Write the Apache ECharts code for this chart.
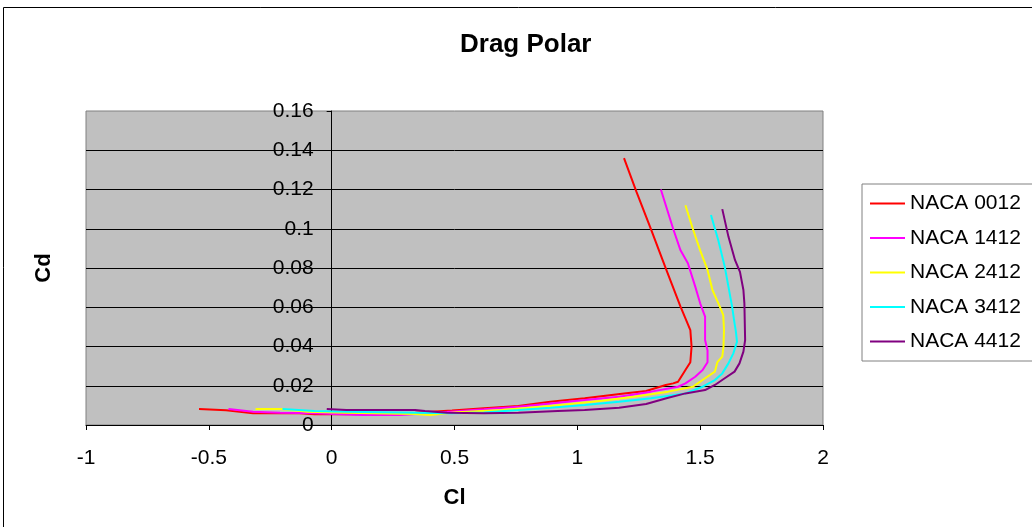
<!DOCTYPE html>
<html>
<head>
<meta charset="utf-8">
<title>Drag Polar</title>
<script src="https://cdn.jsdelivr.net/npm/echarts@6/dist/echarts.min.js"></script>
<style>
  html, body { margin: 0; padding: 0; background: #fff; }
  #chart { width: 1032px; height: 527px; }
</style>
</head>
<body>
<div id="chart"></div>
<script>
// values, ordered from negative Cl along the bottom and up the stall branch
var names = ['NACA 0012', 'NACA 1412', 'NACA 2412', 'NACA 3412', 'NACA 4412'];
var colors = ['#FF0000', '#FF00FF', '#FFFF00', '#00FFFF', '#800080'];

var cl0012 = [-0.54, -0.43, -0.32, -0.13, -0.07, 0.10, 0.34, 0.49, 0.62, 0.76, 0.89, 1.03, 1.19, 1.28, 1.36, 1.39, 1.41, 1.44, 1.46, 1.465, 1.46, 1.42, 1.36, 1.30, 1.24, 1.19];
var cd0012 = [0.0082, 0.0075, 0.0060, 0.0060, 0.0055, 0.0055, 0.0063, 0.0074, 0.0085, 0.0097, 0.0119, 0.0136, 0.0161, 0.0173, 0.0204, 0.0212, 0.0220, 0.0280, 0.0320, 0.0400, 0.0484, 0.0603, 0.0798, 0.0997, 0.1190, 0.1360];

var cl1412 = [-0.42, -0.32, -0.21, -0.07, 0.12, 0.28, 0.48, 0.62, 0.76, 0.89, 1.03, 1.17, 1.30, 1.41, 1.44, 1.48, 1.51, 1.53, 1.53, 1.52, 1.52, 1.50, 1.48, 1.45, 1.42, 1.39, 1.34];
var cd1412 = [0.0082, 0.0068, 0.0063, 0.0060, 0.0051, 0.0051, 0.0068, 0.0080, 0.0093, 0.0110, 0.0127, 0.0144, 0.0170, 0.0195, 0.0212, 0.0246, 0.0280, 0.0320, 0.0380, 0.0433, 0.0552, 0.0620, 0.0705, 0.0824, 0.0890, 0.1000, 0.1200];

var cl2412 = [-0.31, -0.21, -0.10, 0.06, 0.34, 0.40, 0.51, 0.69, 0.89, 1.10, 1.23, 1.37, 1.47, 1.49, 1.52, 1.56, 1.57, 1.59, 1.595, 1.597, 1.594, 1.58, 1.55, 1.53, 1.50, 1.47, 1.44];
var cd2412 = [0.0082, 0.0082, 0.0068, 0.0063, 0.0056, 0.0051, 0.0065, 0.0076, 0.0097, 0.0124, 0.0144, 0.0170, 0.0195, 0.0212, 0.0238, 0.0272, 0.0320, 0.0348, 0.0400, 0.0484, 0.0560, 0.0603, 0.0688, 0.0790, 0.0890, 0.1000, 0.1120];

var cl3412 = [-0.20, -0.07, 0.06, 0.34, 0.49, 0.62, 0.76, 0.89, 1.03, 1.17, 1.30, 1.44, 1.51, 1.56, 1.59, 1.615, 1.635, 1.65, 1.645, 1.64, 1.63, 1.615, 1.60, 1.574, 1.544];
var cd3412 = [0.0082, 0.0071, 0.0068, 0.0063, 0.0060, 0.0064, 0.0076, 0.0088, 0.0102, 0.0119, 0.0136, 0.0161, 0.0195, 0.0229, 0.0263, 0.0314, 0.0365, 0.0424, 0.0480, 0.0518, 0.0603, 0.0705, 0.0807, 0.0940, 0.1070];

var cl4412 = [-0.02, 0.06, 0.34, 0.38, 0.47, 0.62, 0.76, 0.92, 1.03, 1.17, 1.28, 1.37, 1.44, 1.52, 1.56, 1.60, 1.64, 1.66, 1.676, 1.683, 1.68, 1.676, 1.662, 1.642, 1.615, 1.59];
var cd4412 = [0.0082, 0.0076, 0.0076, 0.0071, 0.0063, 0.0060, 0.0063, 0.0071, 0.0076, 0.0088, 0.0107, 0.0139, 0.0161, 0.0178, 0.0204, 0.0238, 0.0272, 0.0314, 0.0374, 0.0433, 0.0620, 0.0688, 0.0780, 0.0840, 0.0960, 0.1100];

var clSets = [cl0012, cl1412, cl2412, cl3412, cl4412];
var cdSets = [cd0012, cd1412, cd2412, cd3412, cd4412];

function pairs(xs, ys) {
    var out = [];
    for (var i = 0; i < xs.length; i++) out.push([xs[i], ys[i]]);
    return out;
}

var font = 'Liberation Sans, Arial, sans-serif';
var chart = echarts.init(document.getElementById('chart'));

// plot box in pixels; the Cd axis is drawn on Cl = 0, one third of the way in
var gridLeft = 86, gridRight = 209, gridWidth = 1032 - gridLeft - gridRight;
var xMin = -1, xMax = 2;
var yAxisShift = gridWidth * (0 - xMin) / (xMax - xMin);

var series = [];
for (var k = 0; k < names.length; k++) {
    series.push({
        name: names[k],
        type: 'line',
        symbol: 'none',
        smooth: false,
        data: pairs(clSets[k], cdSets[k]),
        lineStyle: { color: colors[k], width: 2 },
        itemStyle: { color: colors[k] }
    });
}

var option = {
    backgroundColor: '#ffffff',
    animation: false,
    title: {
        text: 'Drag Polar',
        left: 455,
        top: 27,
        textStyle: { fontFamily: font, fontSize: 26, fontWeight: 'bold', color: '#000' }
    },
    graphic: [{
        type: 'rect',
        shape: { x: 3.5, y: 7.5, width: 1100, height: 600 },
        style: { fill: 'none', stroke: '#000', lineWidth: 1 },
        z: -1
    }],
    legend: {
        orient: 'vertical',
        left: 862,
        top: 184,
        padding: [9, 30, 9, 7],
        itemWidth: 35,
        itemHeight: 20,
        itemGap: 13.5,
        itemStyle: { opacity: 0 },
        backgroundColor: '#fff',
        borderColor: '#808080',
        borderWidth: 1,
        textStyle: { fontFamily: font, fontSize: 21, color: '#000' },
        data: names
    },
    grid: {
        left: gridLeft,
        right: gridRight,
        top: 111,
        bottom: 102,
        outerBoundsMode: 'none',
        containLabel: false,
        show: true,
        backgroundColor: '#C0C0C0',
        borderColor: '#808080',
        borderWidth: 1
    },
    xAxis: {
        type: 'value',
        min: xMin,
        max: xMax,
        interval: 0.5,
        name: 'Cl',
        nameLocation: 'middle',
        nameGap: 62,
        nameTextStyle: { fontFamily: font, fontSize: 22, fontWeight: 'bold', color: '#000' },
        axisLine: { onZero: false, lineStyle: { color: '#000', width: 1 } },
        axisTick: { show: true, length: 5, lineStyle: { color: '#000' } },
        axisLabel: { margin: 23, fontFamily: font, fontSize: 21, color: '#000' },
        splitLine: { show: false }
    },
    yAxis: {
        type: 'value',
        min: 0,
        max: 0.16,
        interval: 0.02,
        offset: -yAxisShift,
        name: 'Cd',
        nameLocation: 'middle',
        nameGap: 277,
        nameTextStyle: { fontFamily: font, fontSize: 22, fontWeight: 'bold', color: '#000' },
        axisLine: { onZero: false, lineStyle: { color: '#000', width: 1 } },
        axisTick: { show: true, length: 5, lineStyle: { color: '#000' } },
        axisLabel: { margin: 18, fontFamily: font, fontSize: 21, color: '#000' },
        splitLine: { show: true, showMaxLine: false, lineStyle: { color: '#000', width: 1 } }
    },
    series: series
};

chart.setOption(option);
</script>
</body>
</html>
